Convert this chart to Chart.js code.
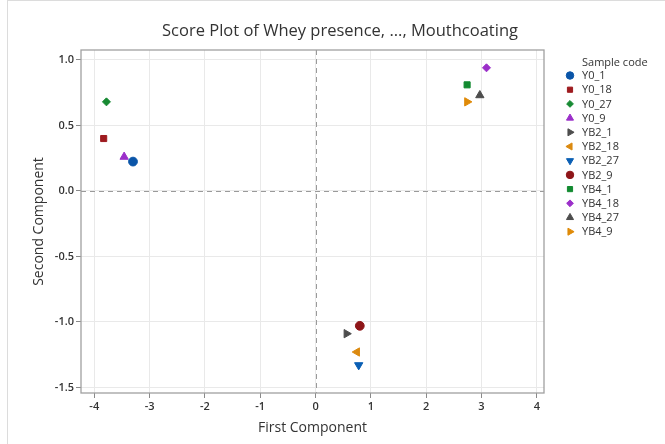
<!DOCTYPE html>
<html><head><meta charset="utf-8">
<script src="https://cdn.jsdelivr.net/npm/chart.js@4.4.0/dist/chart.umd.min.js"></script>
<style>
html,body{margin:0;padding:0;background:#fff;}
#wrap{position:relative;width:665px;height:444px;}
#frame{position:absolute;left:7px;top:0;width:658px;height:444px;border-left:1px solid #dcdcdc;border-top:1px solid #dcdcdc;pointer-events:none;box-sizing:border-box;}
canvas{display:block;}
</style></head><body>
<div id="wrap"><canvas id="c" width="665" height="444"></canvas><div id="frame"></div></div>
<script>
// ---- data ----
const sampleCodes = ['Y0_1','Y0_18','Y0_27','Y0_9','YB2_1','YB2_18','YB2_27','YB2_9','YB4_1','YB4_18','YB4_27','YB4_9'];
const firstComponent  = [-3.30, -3.83, -3.78, -3.46, 0.56, 0.75, 0.78, 0.80, 2.74, 3.09, 2.97, 2.74];
const secondComponent = [0.224, 0.40, 0.68, 0.26, -1.09, -1.23, -1.33, -1.03, 0.81, 0.94, 0.73, 0.68];
const xTicks = [-4, -3, -2, -1, 0, 1, 2, 3, 4];
const yTicks = [-1.5, -1.0, -0.5, 0.0, 0.5, 1.0];
const chartTitle = 'Score Plot of Whey presence, ..., Mouthcoating';
const xTitle = 'First Component';
const yTitle = 'Second Component';
const legendTitle = 'Sample code';

// ---- styles ----
const markerColors = ['#0a55a8','#9e1b1f','#178a33','#9b2fc9','#4d4d4d','#db8a10','#0a5fb4','#8e1518','#128a30','#9b2fc9','#4d4d4d','#df8a08'];
const markerStyles = ['circle','rect','rectRot','triangle','triangle','triangle','triangle','circle','rect','rectRot','triangle','triangle'];
const markerRot    = [0,0,0,0,90,-90,180,0,0,0,0,90];
const markerRadius = {circle:4.4, rect:4.3, rectRot:4.0, triangle:4.8};
const FONT = "'Open Sans', 'Noto Sans', sans-serif";
const TXT = '#333333';

const datasets = sampleCodes.map((code, i) => ({
  label: code,
  data: [{x: firstComponent[i], y: secondComponent[i]}],
  pointStyle: markerStyles[i],
  rotation: markerRot[i],
  radius: markerRadius[markerStyles[i]],
  pointRadius: markerRadius[markerStyles[i]],
  backgroundColor: markerColors[i],
  borderColor: markerColors[i],
  borderWidth: 1,
  hoverRadius: markerRadius[markerStyles[i]]
}));

const decor = {
  id: 'decor',
  beforeDatasetsDraw(chart) {
    const {ctx, chartArea: a, scales: {x, y}} = chart;
    ctx.save();
    ctx.strokeStyle = '#9a9a9a';
    ctx.lineWidth = 1;
    ctx.setLineDash([5, 4]);
    const x0 = Math.round(x.getPixelForValue(0)) + 0.5;
    const y0 = Math.round(y.getPixelForValue(0)) + 0.5;
    ctx.beginPath();
    ctx.moveTo(x0, a.top); ctx.lineTo(x0, a.bottom);
    ctx.moveTo(a.left, y0); ctx.lineTo(a.right, y0);
    ctx.stroke();
    ctx.setLineDash([]);
    ctx.strokeStyle = '#a0a0a0';
    ctx.lineWidth = 1.3;
    ctx.strokeRect(a.left, a.top, a.right - a.left, a.bottom - a.top);
    ctx.restore();
  },
  afterDraw(chart) {
    const ctx = chart.ctx;
    ctx.save();
    // title
    ctx.fillStyle = TXT;
    ctx.font = "16.5px " + FONT;
    ctx.textAlign = 'center';
    ctx.textBaseline = 'middle';
    ctx.fillText(chartTitle, 340, 31);
    // legend
    ctx.textAlign = 'left';
    ctx.font = "11px " + FONT;
    ctx.fillText(legendTitle, 582, 63);
    chart.data.datasets.forEach((ds, i) => {
      const yy = 75.5 + i * 14.2;
      ctx.fillStyle = ds.backgroundColor;
      ctx.strokeStyle = ds.borderColor;
      ctx.lineWidth = 1;
      Chart.helpers.drawPoint(ctx, {
        pointStyle: ds.pointStyle, rotation: ds.rotation, radius: ds.radius * 0.85, borderWidth: 1
      }, 570, yy);
      ctx.fillStyle = TXT;
      ctx.fillText(ds.label, 582, yy + 0.5);
    });
    ctx.restore();
  }
};

new Chart(document.getElementById('c'), {
  type: 'scatter',
  data: {datasets},
  plugins: [decor],
  options: {
    responsive: false,
    animation: false,
    layout: {padding: {top: 50, right: 121, left: 0, bottom: 0}},
    plugins: {legend: {display: false}, title: {display: false}, tooltip: {enabled: false}},
    scales: {
      x: {
        type: 'linear', min: -4.24, max: 4.13,
        afterBuildTicks(s) { s.ticks = xTicks.map(v => ({value: v})); },
        afterFit(s) { s.height = 51; },
        ticks: {color: TXT, font: {family: FONT, size: 11, weight: '600'}, padding: 2, callback: v => String(v)},
        grid: {color: '#e9e9e9', tickColor: '#8a8a8a', tickLength: 5},
        border: {display: false},
        title: {display: true, text: xTitle, color: TXT, font: {family: FONT, size: 14}, padding: {top: 0, bottom: 8}}
      },
      y: {
        type: 'linear', min: -1.543, max: 1.076,
        afterBuildTicks(s) { s.ticks = yTicks.map(v => ({value: v})); },
        afterFit(s) { s.width = 81; },
        ticks: {color: TXT, font: {family: FONT, size: 11, weight: '600'}, padding: 2, callback: v => Number(v).toFixed(1)},
        grid: {color: '#e9e9e9', tickColor: '#8a8a8a', tickLength: 5},
        border: {display: false},
        title: {display: true, text: yTitle, color: TXT, font: {family: FONT, size: 14}, padding: {top: 31, bottom: 0}}
      }
    }
  }
});
</script>
</body></html>
